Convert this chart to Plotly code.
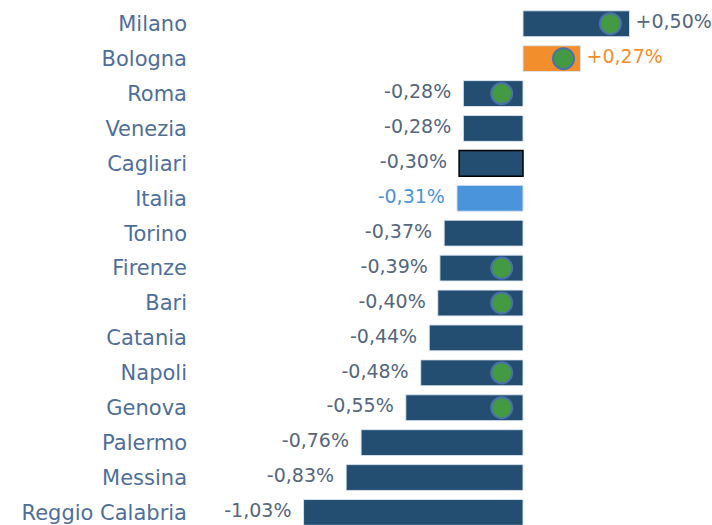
import plotly.graph_objects as go

cities = ["Milano", "Bologna", "Roma", "Venezia", "Cagliari", "Italia", "Torino",
          "Firenze", "Bari", "Catania", "Napoli", "Genova", "Palermo", "Messina",
          "Reggio Calabria"]
values = [0.50, 0.27, -0.28, -0.28, -0.30, -0.31, -0.37, -0.39, -0.40, -0.44,
          -0.48, -0.55, -0.76, -0.83, -1.03]
dot_cities = ["Milano", "Bologna", "Roma", "Firenze", "Bari", "Napoli", "Genova"]
dot_values = [0.41, 0.19, -0.10, -0.10, -0.10, -0.10, -0.10]

DARK = "#244d72"
ORANGE = "#f28e2b"
LIGHT = "#4a94dc"
TXT = "#55677c"
FONT = "DejaVu Sans"

bar_colors = []
line_colors = []
line_widths = []
txt_colors = []
for c in cities:
    if c == "Bologna":
        bar_colors.append(ORANGE); txt_colors.append(ORANGE)
    elif c == "Italia":
        bar_colors.append(LIGHT); txt_colors.append(LIGHT)
    else:
        bar_colors.append(DARK); txt_colors.append(TXT)
    if c == "Cagliari":
        line_colors.append("#000000"); line_widths.append(1.5)
    else:
        line_colors.append("rgba(220,230,240,0.9)"); line_widths.append(1)

def fmt(v):
    s = f"{v:+.2f}".replace(".", ",")
    return s + "%"

fig = go.Figure()
fig.add_trace(go.Bar(
    y=cities, x=values, orientation="h", width=0.74,
    marker=dict(color=bar_colors, line=dict(color=line_colors, width=line_widths)),
    hoverinfo="skip",
))

pos_idx = [i for i, v in enumerate(values) if v >= 0]
neg_idx = [i for i, v in enumerate(values) if v < 0]
fig.add_trace(go.Scatter(
    y=[cities[i] for i in pos_idx], x=[values[i] for i in pos_idx],
    mode="text", text=["\u00a0" + fmt(values[i]) for i in pos_idx],
    textposition="middle right",
    textfont=dict(family=FONT, size=19, color=[txt_colors[i] for i in pos_idx]),
    cliponaxis=False, hoverinfo="skip",
))
fig.add_trace(go.Scatter(
    y=[cities[i] for i in neg_idx], x=[values[i] for i in neg_idx],
    mode="text", text=[fmt(values[i]) + "\u00a0\u00a0" for i in neg_idx],
    textposition="middle left",
    textfont=dict(family=FONT, size=19, color=[txt_colors[i] for i in neg_idx]),
    cliponaxis=False, hoverinfo="skip",
))
fig.add_trace(go.Scatter(
    y=dot_cities, x=dot_values, mode="markers",
    marker=dict(size=21, color="#449a42", line=dict(color="#4a72a8", width=2)),
    hoverinfo="skip",
))

fig.update_layout(
    width=712, height=525,
    margin=dict(l=200, r=0, t=0, b=0),
    plot_bgcolor="white", paper_bgcolor="white",
    showlegend=False,
    xaxis=dict(range=[-1.516, 0.887], visible=False, fixedrange=True),
    yaxis=dict(categoryorder="array", categoryarray=cities, range=[14.36, -0.68],
               automargin=False, fixedrange=True,
               showgrid=False, zeroline=False, showline=False, ticks="",
               ticklabelstandoff=12,
               tickfont=dict(family=FONT, size=21, color="#4f6f98")),
)
fig.write_html("out.html", config={"displayModeBar": False},
               post_script="document.body.style.margin='0';document.body.style.overflow='hidden';")
